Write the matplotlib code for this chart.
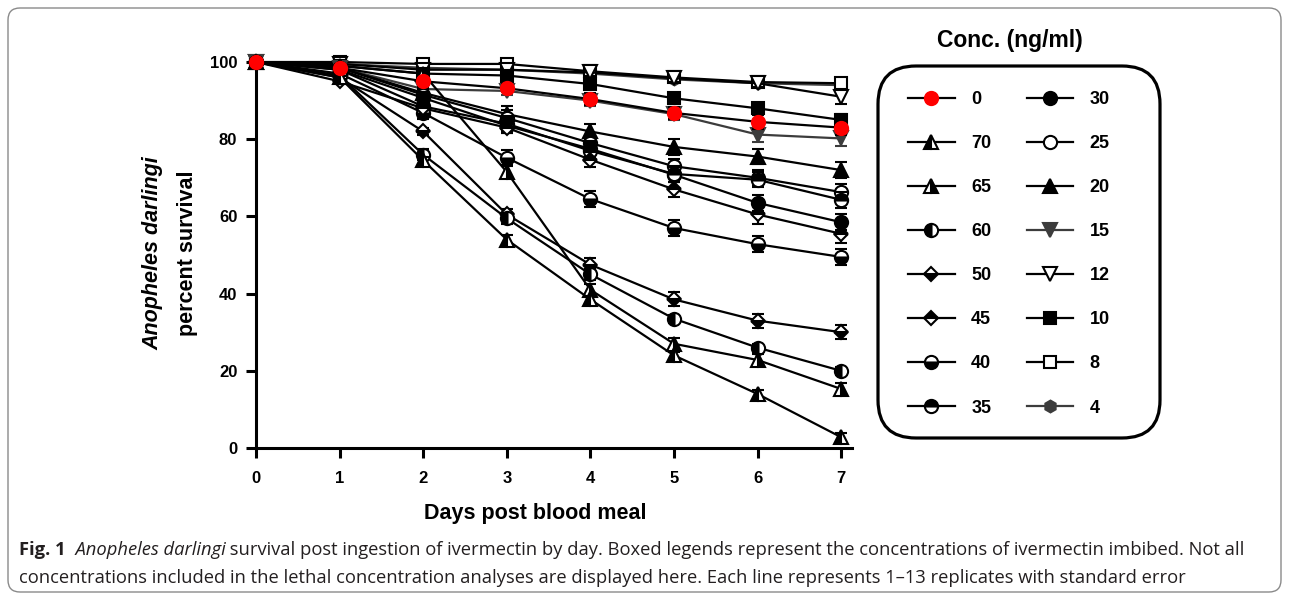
import numpy as np
import matplotlib
matplotlib.use("Agg")
import matplotlib.pyplot as plt
from matplotlib.lines import Line2D
from matplotlib.patches import FancyBboxPatch
from matplotlib.transforms import IdentityTransform

W, H = 1289, 599

days = [0, 1, 2, 3, 4, 5, 6, 7]

# survival (%) by concentration, ng/ml
conc_0 = [100, 98.5, 95.0, 93.2, 90.4, 86.8, 84.5, 83.0]
conc_70 = [100, 96.0, 74.5, 54.0, 38.5, 24.0, 14.0, 2.8]
conc_65 = [100, 99.0, 97.0, 71.5, 41.0, 27.0, 22.8, 15.3]
conc_60 = [100, 96.5, 76.0, 59.5, 45.0, 33.5, 26.0, 20.0]
conc_50 = [100, 96.0, 82.0, 60.5, 47.5, 38.5, 33.0, 30.0]
conc_45 = [100, 95.0, 88.0, 83.0, 74.7, 67.0, 60.5, 55.5]
conc_40 = [100, 97.0, 86.8, 75.2, 64.5, 57.0, 52.8, 49.5]
conc_35 = [100, 98.0, 88.5, 84.0, 77.0, 71.0, 69.5, 64.3]
conc_30 = [100, 98.0, 90.7, 83.5, 77.5, 70.8, 63.5, 58.5]
conc_25 = [100, 98.5, 91.5, 85.5, 79.0, 73.0, 70.0, 66.3]
conc_20 = [100, 98.5, 92.0, 86.5, 82.0, 78.0, 75.5, 72.0]
conc_15 = [100, 98.5, 93.0, 92.5, 90.0, 86.5, 81.2, 80.2]
conc_12 = [100, 99.5, 98.0, 98.0, 97.3, 95.8, 94.5, 91.0]
conc_10 = [100, 99.0, 97.0, 96.5, 94.3, 90.6, 88.0, 85.0]
conc_8 = [100, 100, 99.5, 99.5, 97.6, 96.0, 94.8, 94.5]
conc_4 = [100, 99.5, 98.5, 98.0, 97.0, 95.5, 94.5, 94.0]

# standard errors
err_0 = [0, 0.5, 1.0, 1.0, 1.5, 1.5, 1.8, 1.8]
err_70 = [0, 0.5, 1.0, 1.2, 1.0, 1.0, 1.0, 1.0]
err_65 = [0, 0.5, 1.0, 1.5, 1.5, 1.5, 1.5, 1.5]
err_60 = [0, 0.5, 1.5, 1.5, 1.5, 1.0, 1.0, 1.0]
err_50 = [0, 0.5, 1.0, 1.5, 1.8, 1.8, 1.8, 1.8]
err_45 = [0, 0.5, 1.5, 1.5, 2.0, 2.0, 2.5, 2.5]
err_40 = [0, 0.5, 1.5, 2.0, 2.0, 2.0, 2.0, 2.0]
err_35 = [0, 0.5, 1.5, 2.0, 2.0, 2.0, 2.0, 2.0]
err_30 = [0, 0.5, 1.5, 2.0, 2.0, 2.0, 2.0, 2.0]
err_25 = [0, 0.5, 1.5, 2.0, 2.0, 2.0, 2.0, 2.0]
err_20 = [0, 0.5, 1.5, 2.0, 2.0, 2.0, 2.0, 2.0]
err_15 = [0, 0.5, 1.0, 1.0, 1.5, 1.5, 2.0, 2.0]
err_12 = [0, 0.5, 1.0, 1.0, 1.0, 1.0, 1.0, 1.8]
err_10 = [0, 0.5, 1.0, 1.0, 1.0, 1.0, 1.0, 1.5]
err_8 = [0, 0.5, 0.8, 0.8, 0.8, 0.8, 0.8, 0.8]
err_4 = [0, 0.5, 0.8, 0.8, 0.8, 0.8, 0.8, 0.8]

legend_labels = ["0", "70", "65", "60", "50", "45", "40", "35",
                 "30", "25", "20", "15", "12", "10", "8", "4"]

gray = "#3c3c3c"
styles = {
    "0": dict(marker="o", mfc="red", mec="red", color="black"),
    "70": dict(marker="^", fillstyle="left", mfc="black", mfcalt="white", mec="black", color="black"),
    "65": dict(marker="^", fillstyle="right", mfc="black", mfcalt="white", mec="black", color="black"),
    "60": dict(marker="o", fillstyle="left", mfc="black", mfcalt="white", mec="black", color="black"),
    "50": dict(marker="D", fillstyle="bottom", mfc="black", mfcalt="white", mec="black", color="black"),
    "45": dict(marker="D", fillstyle="top", mfc="black", mfcalt="white", mec="black", color="black"),
    "40": dict(marker="o", fillstyle="bottom", mfc="black", mfcalt="white", mec="black", color="black"),
    "35": dict(marker="o", fillstyle="top", mfc="black", mfcalt="white", mec="black", color="black"),
    "30": dict(marker="o", mfc="black", mec="black", color="black"),
    "25": dict(marker="o", mfc="white", mec="black", color="black"),
    "20": dict(marker="^", mfc="black", mec="black", color="black"),
    "15": dict(marker="v", mfc=gray, mec=gray, color=gray),
    "12": dict(marker="v", mfc="white", mec="black", color="black"),
    "10": dict(marker="s", mfc="black", mec="black", color="black"),
    "8": dict(marker="s", mfc="white", mec="black", color="black"),
    "4": dict(marker="h", mfc=gray, mec=gray, color=gray),
}
series = {
    "0": (conc_0, err_0), "70": (conc_70, err_70), "65": (conc_65, err_65),
    "60": (conc_60, err_60), "50": (conc_50, err_50), "45": (conc_45, err_45),
    "40": (conc_40, err_40), "35": (conc_35, err_35), "30": (conc_30, err_30),
    "25": (conc_25, err_25), "20": (conc_20, err_20), "15": (conc_15, err_15),
    "12": (conc_12, err_12), "10": (conc_10, err_10), "8": (conc_8, err_8),
    "4": (conc_4, err_4),
}
sizes = {"D": 7.5, "s": 8.5, "^": 9.5, "v": 9.5, "o": 9.5, "h": 8.5}

plt.rcParams["font.family"] = ["Liberation Sans", "DejaVu Sans"]
fig = plt.figure(figsize=(W / 100, H / 100), dpi=100)

ax = fig.add_axes([256 / W, (H - 448) / H, (852 - 256) / W, (448 - 62) / H])

draw_order = ["4", "8", "12", "10", "15", "20", "25", "30", "35", "40",
              "45", "50", "60", "65", "70", "0"]
handles = {}
for z, lab in enumerate(draw_order):
    vals, err = series[lab]
    st = dict(styles[lab])
    col = st.pop("color")
    ms = sizes[st["marker"]]
    ax.errorbar(days, vals, yerr=err, color=col, ecolor=col, lw=1.6,
                elinewidth=1.6, capsize=4.5, capthick=1.6, ms=ms, mew=1.5,
                clip_on=False, zorder=3 + z, **st)
    handles[lab] = Line2D([], [], color=col, lw=1.6, ms=ms, mew=1.5, **st)

ax.set_xlim(0, 7.13)
ax.set_ylim(0, 100)
ax.set_xticks(days)
ax.set_yticks([0, 20, 40, 60, 80, 100])
for s in ["top", "right"]:
    ax.spines[s].set_visible(False)
for s in ["left", "bottom"]:
    ax.spines[s].set_linewidth(2.2)
ax.tick_params(axis="both", direction="out", length=7.5, width=2.2, labelsize=12)
ax.tick_params(axis="x", pad=9)
ax.tick_params(axis="y", pad=6)
for t in ax.get_xticklabels() + ax.get_yticklabels():
    t.set_fontweight("bold")

fig.text(535 / W, 1 - 513 / H, "Days post blood meal", ha="center", va="center",
         fontsize=15.5, fontweight="bold")
fig.text(153 / W, 1 - 253 / H, "Anopheles darlingi", rotation=90, ha="center",
         va="center", fontsize=15.5, fontweight="bold", style="italic")
fig.text(187 / W, 1 - 253 / H, "percent survival", rotation=90, ha="center",
         va="center", fontsize=15.5, fontweight="bold")

# legend
fig.text(1010 / W, 1 - 40 / H, "Conc. (ng/ml)", ha="center", va="center",
         fontsize=16.5, fontweight="bold")
box = FancyBboxPatch((878, H - 438), 282, 372,
                     boxstyle="round,pad=0,rounding_size=38",
                     transform=IdentityTransform(), fill=False,
                     lw=2.3, ec="black")
fig.add_artist(box)
fig.legend([handles[l] for l in legend_labels], legend_labels, ncol=2,
           loc="upper left", bbox_to_anchor=(908 / W, 1 - 91 / H),
           frameon=False, numpoints=1, borderpad=0, prop=dict(size=13, weight="bold"),
           handlelength=2.6, handletextpad=0.9, columnspacing=1.95,
           labelspacing=1.5, borderaxespad=0)

# outer rounded border
border = FancyBboxPatch((8, 7), W - 16, H - 15,
                        boxstyle="round,pad=0,rounding_size=12",
                        transform=IdentityTransform(), fill=False,
                        lw=1.0, ec="#8a8a8a")
fig.add_artist(border)

# caption
cap_font = ["Open Sans", "DejaVu Sans"]
cap_col = "#231f20"
renderer = fig.canvas.get_renderer()


def put_runs(x, y, runs):
    for text, kw in runs:
        t = fig.text(x / W, 1 - y / H, text, ha="left", va="center",
                     fontsize=13.2, family=cap_font, color=cap_col, **kw)
        x = t.get_window_extent(renderer=renderer).x1


put_runs(19, 550, [("Fig. 1", dict(fontweight="bold")),
                   ("  Anopheles darlingi", dict(style="italic")),
                   (" survival post ingestion of ivermectin by day. Boxed legends "
                    "represent the concentrations of ivermectin imbibed. Not all", {})])
put_runs(19, 578, [("concentrations included in the lethal concentration analyses are "
                    "displayed here. Each line represents 1\u201313 replicates with "
                    "standard error", {})])

fig.savefig("out.png", dpi=100)
